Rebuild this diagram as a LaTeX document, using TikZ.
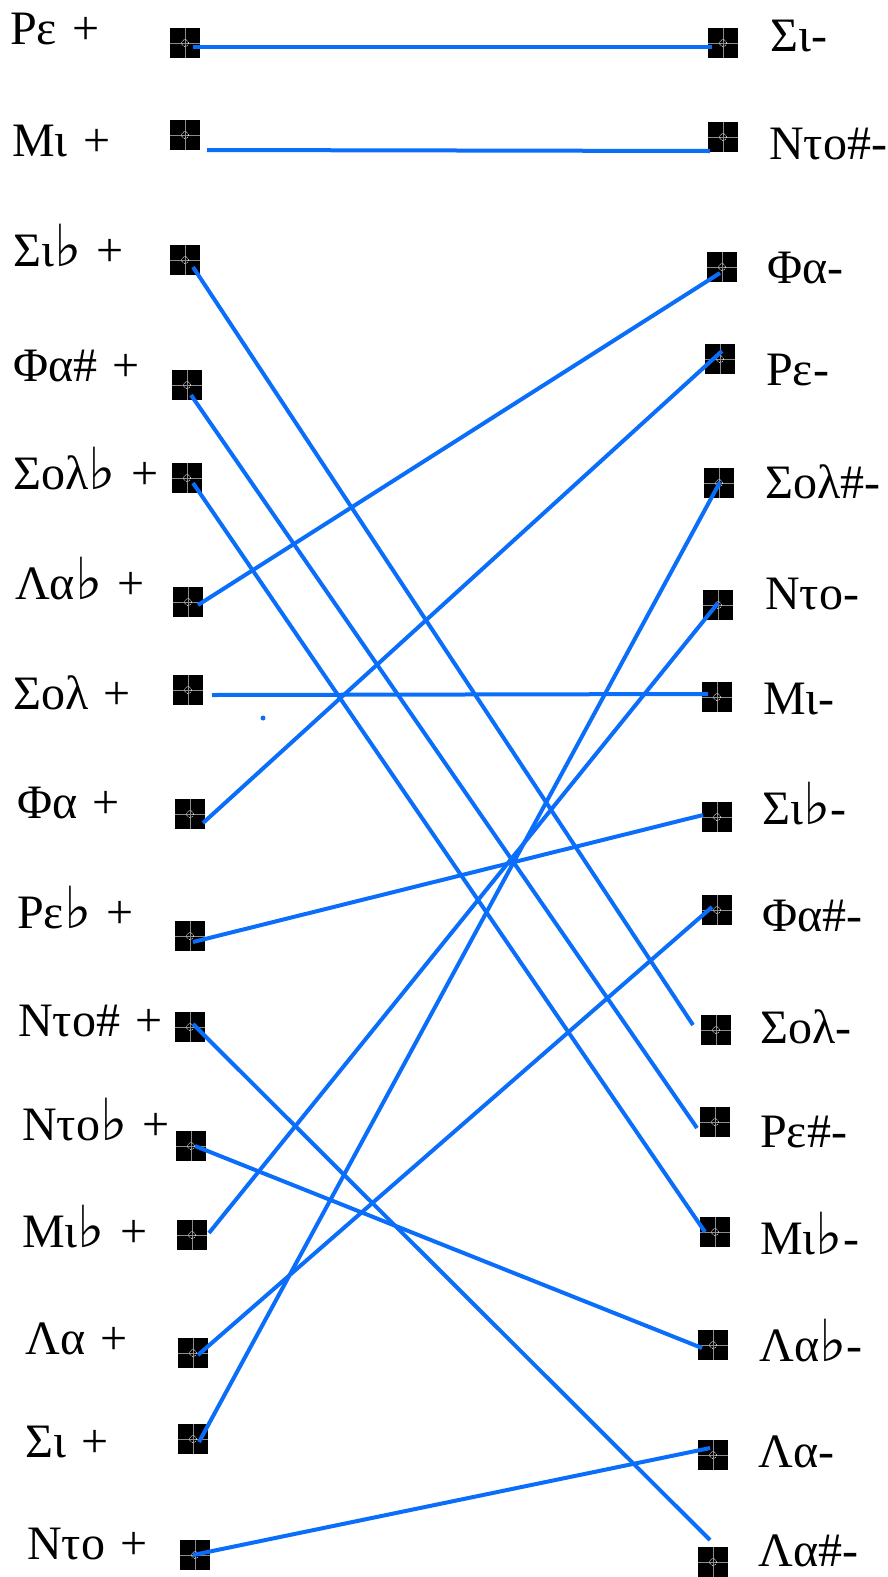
\documentclass[tikz,border=0pt]{standalone}
\usepackage{fontspec}
\setmainfont{Liberation Serif}
\newfontfamily\symfnt{DejaVu Sans}
\newcommand{\flt}{{\symfnt\fontsize{58}{60}\selectfont ♭}}
\newcommand{\pls}{\hspace{0.32em}+}
\definecolor{linecol}{RGB}{10,110,250}
\begin{document}
\begin{tikzpicture}[x=1pt,y=-1pt,
  sq/.style={fill=black, draw=none, minimum size=30pt, inner sep=0pt,
    path picture={
      \draw[white!55!black, line width=0.6pt] (path picture bounding box.north) -- (path picture bounding box.south);
      \draw[white!55!black, line width=0.6pt] (path picture bounding box.west) -- (path picture bounding box.east);
      \draw[white, line width=0.7pt, densely dotted] (path picture bounding box.center) circle (3.5pt);
    }},
  lab/.style={anchor=base west, inner sep=0pt, font=\fontsize{48}{52}\selectfont},
  conn/.style={draw=linecol, line width=4pt}]
\useasboundingbox (0,0) rectangle (888,1577);
% left squares
\node[sq] (L1) at (185,43) {};
\node[sq] (L2) at (185,135) {};
\node[sq] (L3) at (185,260) {};
\node[sq] (L4) at (187,385) {};
\node[sq] (L5) at (187,478) {};
\node[sq] (L6) at (188,602) {};
\node[sq] (L7) at (188,690) {};
\node[sq] (L8) at (190,814) {};
\node[sq] (L9) at (190,936) {};
\node[sq] (L10) at (190,1027) {};
\node[sq] (L11) at (191,1146) {};
\node[sq] (L12) at (192,1235) {};
\node[sq] (L13) at (193,1353) {};
\node[sq] (L14) at (193,1439) {};
\node[sq] (L15) at (195,1555) {};
% right squares
\node[sq] (R1) at (723,43) {};
\node[sq] (R2) at (723,137) {};
\node[sq] (R3) at (722,267) {};
\node[sq] (R4) at (720,359) {};
\node[sq] (R5) at (719,483) {};
\node[sq] (R6) at (718,605) {};
\node[sq] (R7) at (717,697) {};
\node[sq] (R8) at (717,817) {};
\node[sq] (R9) at (717,910) {};
\node[sq] (R10) at (716,1030) {};
\node[sq] (R11) at (715,1122) {};
\node[sq] (R12) at (715,1232) {};
\node[sq] (R13) at (713,1345) {};
\node[sq] (R14) at (713,1455) {};
\node[sq] (R15) at (713,1562) {};
% left labels
\node[lab] (tL1) at (10,44) {Ρε\pls};
\node[lab] (tL2) at (12,156) {Μι\pls};
\node[lab] (tL3) at (13,266) {Σι\flt\pls};
\node[lab] (tL4) at (13,381) {Φα\#\pls};
\node[lab] (tL5) at (13,489) {Σολ\flt\pls};
\node[lab] (tL6) at (15,599) {Λα\flt\pls};
\node[lab] (tL7) at (13,709) {Σολ\pls};
\node[lab] (tL8) at (17,818) {Φα\pls};
\node[lab] (tL9) at (17,928) {Ρε\flt\pls};
\node[lab] (tL10) at (18,1036) {Ντο\#\pls};
\node[lab] (tL11) at (22,1140) {Ντο\flt\pls};
\node[lab] (tL12) at (22,1247) {Μι\flt\pls};
\node[lab] (tL13) at (25,1354) {Λα\pls};
\node[lab] (tL14) at (25,1457) {Σι\pls};
\node[lab] (tL15) at (27,1559) {Ντο\pls};
% right labels
\node[lab] (tR1) at (770,51) {Σι-};
\node[lab] (tR2) at (769,159) {Ντο\#-};
\node[lab] (tR3) at (767,283) {Φα-};
\node[lab] (tR4) at (766,385) {Ρε-};
\node[lab] (tR5) at (765,498) {Σολ\#-};
\node[lab] (tR6) at (765,609) {Ντο-};
\node[lab] (tR7) at (763,714) {Μι-};
\node[lab] (tR8) at (762,824) {Σι\flt-};
\node[lab] (tR9) at (762,931) {Φα\#-};
\node[lab] (tR10) at (760,1043) {Σολ-};
\node[lab] (tR11) at (760,1147) {Ρε\#-};
\node[lab] (tR12) at (760,1254) {Μι\flt-};
\node[lab] (tR13) at (759,1361) {Λα\flt-};
\node[lab] (tR14) at (758,1467) {Λα-};
\node[lab] (tR15) at (758,1566) {Λα\#-};
% connectors
\draw[conn] ([shift={(8,4)}]L1.center) -- ([shift={(-11,4)}]R1.center);
\draw[conn] ([shift={(22,15)}]L2.center) -- ([shift={(-13,14)}]R2.center);
\draw[conn] ([shift={(8,7)}]L3.center) -- ([shift={(-23,-5)}]R10.center);
\draw[conn] ([shift={(4,10)}]L4.center) -- ([shift={(-18,6)}]R11.center);
\draw[conn] ([shift={(6,5)}]L5.center) -- ([shift={(-10,0)}]R12.center);
\draw[conn] ([shift={(10,3)}]L6.center) -- ([shift={(-2,6)}]R3.center);
\draw[conn] ([shift={(24,5)}]L7.center) -- ([shift={(-9,-3)}]R7.center);
\draw[conn] ([shift={(13,9)}]L8.center) -- ([shift={(2,-8)}]R4.center);
\draw[conn] ([shift={(3,6)}]L9.center) -- ([shift={(-14,-2)}]R8.center);
\draw[conn] ([shift={(3,-3)}]L10.center) -- ([shift={(-3,-22)}]R15.center);
\draw[conn] ([shift={(4,0)}]L11.center) -- ([shift={(-11,3)}]R13.center);
\draw[conn] ([shift={(17,-2)}]L12.center) -- ([shift={(0,-2)}]R6.center);
\draw[conn] ([shift={(5,2)}]L13.center) -- ([shift={(-5,-3)}]R9.center);
\draw[conn] ([shift={(6,3)}]L14.center) -- ([shift={(1,-1)}]R5.center);
\draw[conn] ([shift={(-2,0)}]L15.center) -- ([shift={(-3,-7)}]R14.center);
% stray dot
\fill[linecol] (263,718) circle (2.5pt);
\end{tikzpicture}
\end{document}
